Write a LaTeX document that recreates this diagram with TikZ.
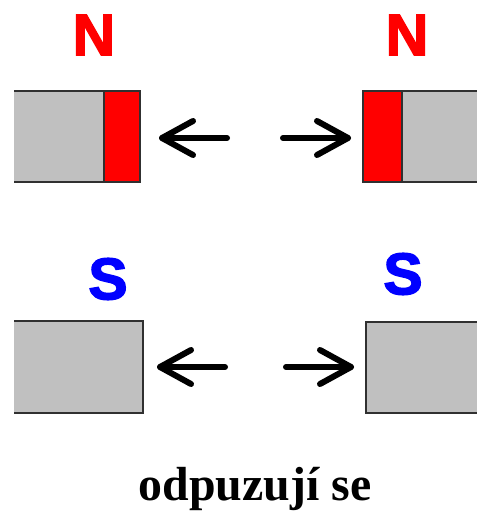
\documentclass[tikz,border=0pt]{standalone}
\usepackage{fontspec}
\setmainfont{Liberation Serif}
\setsansfont{Liberation Sans}
\newfontfamily\polefont[FakeBold=2.5]{Liberation Sans Bold}
\definecolor{magred}{HTML}{FF0000}
\definecolor{magblue}{HTML}{0000FF}
\definecolor{maggray}{HTML}{C0C0C0}
\definecolor{edgecol}{HTML}{303030}
\tikzset{
  edgeline/.style={draw=edgecol, line width=1.5bp},
  arrowline/.style={draw=black, line width=6bp, line cap=round, line join=round},
  polelabel/.style={inner sep=0pt, font=\polefont\fontsize{59}{59}\selectfont},
  caption/.style={inner sep=0pt, anchor=base, font=\rmfamily\bfseries\fontsize{48}{48}\selectfont}
}
\begin{document}
\begin{tikzpicture}[x=1bp,y=-1bp]
\useasboundingbox (0,0) rectangle (477,523);
% top-left magnet
\fill[maggray] (14,91) rectangle (104,182);
\fill[magred] (104,91) rectangle (140,182);
\draw[edgeline] (14,91) -- (140,91) -- (140,182) -- (14,182);
\draw[edgeline] (104,91) -- (104,182);
% top-right magnet
\fill[magred] (363,91) rectangle (402,182);
\fill[maggray] (402,91) rectangle (477,182);
\draw[edgeline] (477,91) -- (363,91) -- (363,182) -- (477,182);
\draw[edgeline] (402,91) -- (402,182);
% bottom-left magnet
\fill[maggray] (14,321) rectangle (143,413);
\draw[edgeline] (14,321) -- (143,321) -- (143,413) -- (14,413);
% bottom-right magnet
\fill[maggray] (366,322) rectangle (477,413);
\draw[edgeline] (477,322) -- (366,322) -- (366,413) -- (477,413);
% labels
\node[polelabel, text=magred] (n1) at (94,35) {N};
\node[polelabel, text=magred] (n2) at (407,35) {N};
\node[polelabel, text=magblue] (s1) at (108,279) {S};
\node[polelabel, text=magblue] (s2) at (403,274) {S};
% arrow coordinates
\coordinate (a1tip) at (162,138);
\coordinate (a1tail) at (227,138);
\coordinate (a2tip) at (348,138);
\coordinate (a2tail) at (283,138);
\coordinate (a3tip) at (160,367);
\coordinate (a3tail) at (225,367);
\coordinate (a4tip) at (351,367);
\coordinate (a4tail) at (286,367);
\draw[arrowline] (a1tail) -- (a1tip);
\draw[arrowline] ([shift={(31,-17)}]a1tip) -- (a1tip) -- ([shift={(31,17)}]a1tip);
\draw[arrowline] (a2tail) -- (a2tip);
\draw[arrowline] ([shift={(-31,-17)}]a2tip) -- (a2tip) -- ([shift={(-31,17)}]a2tip);
\draw[arrowline] (a3tail) -- (a3tip);
\draw[arrowline] ([shift={(31,-17)}]a3tip) -- (a3tip) -- ([shift={(31,17)}]a3tip);
\draw[arrowline] (a4tail) -- (a4tip);
\draw[arrowline] ([shift={(-31,-17)}]a4tip) -- (a4tip) -- ([shift={(-31,17)}]a4tip);
% caption
\node[caption] (cap) at (255,500) {odpuzují se};
\end{tikzpicture}
\end{document}
